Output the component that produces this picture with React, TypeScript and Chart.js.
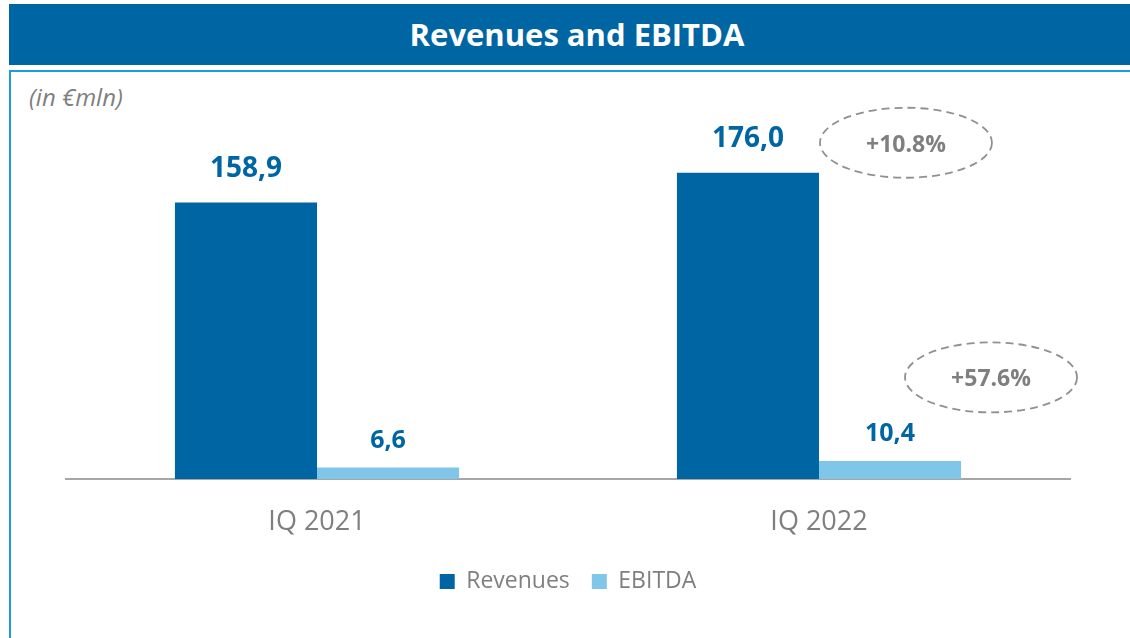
import React, { useEffect, useRef } from "react";
import { Chart, registerables } from "chart.js";

Chart.register(...registerables);

const categories = ["IQ 2021", "IQ 2022"];
const revenues = [158.9, 176.0];
const ebitda = [6.6, 10.4];
const seriesNames = ["Revenues", "EBITDA"];
const unitLabel = "(in €mln)";
const titleText = "Revenues and EBITDA";

const BLUE = "#0065A3";
const LIGHT = "#80C6E8";
const GRAY = "#7F7F7F";
const FONT = "'Open Sans', sans-serif";

const fmt = (v: number) => v.toFixed(1).replace(".", ",");
const growth = (a: number, b: number) => "+" + (((b - a) / a) * 100).toFixed(1) + "%";

const labelsPlugin = {
  id: "valueLabels",
  afterDatasetsDraw(chart: any) {
    const ctx = chart.ctx;
    ctx.save();
    ctx.textAlign = "center";
    ctx.textBaseline = "alphabetic";
    chart.data.datasets.forEach((ds: any, di: number) => {
      const meta = chart.getDatasetMeta(di);
      meta.data.forEach((bar: any, i: number) => {
        ctx.fillStyle = BLUE;
        if (di === 0) {
          ctx.font = `bold 28px ${FONT}`;
          ctx.fillText(fmt(ds.data[i]), bar.x, bar.y - 26);
        } else {
          ctx.font = `bold 25px ${FONT}`;
          ctx.fillText(fmt(ds.data[i]), bar.x, bar.y - 20);
        }
      });
    });
    // growth ellipses
    const revBar = chart.getDatasetMeta(0).data[1];
    const ebBar = chart.getDatasetMeta(1).data[1];
    const items = [
      { x: revBar.x + 158, y: revBar.y - 30, text: growth(revenues[0], revenues[1]) },
      { x: ebBar.x + 101, y: ebBar.y - 83.5, text: growth(ebitda[0], ebitda[1]) },
    ];
    items.forEach((it) => {
      ctx.beginPath();
      ctx.setLineDash([8, 5]);
      ctx.lineWidth = 1.8;
      ctx.strokeStyle = "#909090";
      ctx.ellipse(it.x, it.y, 86, 35, 0, 0, Math.PI * 2);
      ctx.stroke();
      ctx.setLineDash([]);
      ctx.fillStyle = GRAY;
      ctx.font = `bold 23px ${FONT}`;
      ctx.fillText(it.text, it.x, it.y + 9);
    });
    ctx.restore();
  },
};

export default function App() {
  const ref = useRef<HTMLCanvasElement | null>(null);
  useEffect(() => {
    if (!ref.current) return;
    Chart.defaults.font.family = FONT;
    const chart = new Chart(ref.current, {
      type: "bar",
      data: {
        labels: categories,
        datasets: [
          {
            label: seriesNames[0],
            data: revenues,
            backgroundColor: BLUE,
            categoryPercentage: 0.566,
            barPercentage: 1.0,
          },
          {
            label: seriesNames[1],
            data: ebitda,
            backgroundColor: LIGHT,
            categoryPercentage: 0.566,
            barPercentage: 1.0,
          },
        ],
      },
      options: {
        animation: false,
        responsive: false,
        devicePixelRatio: 1,
        layout: { padding: { top: 131, left: 66, right: 60, bottom: 35 } },
        plugins: {
          legend: {
            position: "bottom",
            labels: {
              boxWidth: 15,
              boxHeight: 15,
              padding: 22,
              color: GRAY,
              font: { size: 23, family: FONT },
            },
          },
          tooltip: { enabled: false },
          title: { display: false },
        },
        scales: {
          x: {
            grid: { display: false, drawTicks: false },
            border: { display: true, color: "#A6A6A6", width: 2 },
            ticks: { color: GRAY, font: { size: 27, family: FONT }, padding: 27 },
            afterFit: (scale: any) => {
              scale.height = 69;
            },
          },
          y: {
            display: false,
            min: 0,
            max: 200,
          },
        },
      },
      plugins: [labelsPlugin],
    });
    return () => chart.destroy();
  }, []);

  return (
    <div style={{ position: "absolute", left: 0, top: 0, width: 1130, height: 638, overflow: "hidden", background: "#fff" }}>
      <div
        style={{
          position: "absolute",
          left: 9,
          top: 4,
          width: 1121,
          height: 61,
          background: "#0066A3",
          color: "#fff",
          fontFamily: FONT,
          fontWeight: 700,
          fontSize: 31,
          lineHeight: "61px",
          textAlign: "center",
          paddingLeft: 15,
          boxSizing: "border-box",
        }}
      >
        {titleText}
      </div>
      <div
        style={{
          position: "absolute",
          left: 9,
          top: 70,
          right: 0,
          bottom: 0,
          borderTop: "2px solid #1E9CD4",
          borderLeft: "2px solid #1E9CD4",
        }}
      />
      <div
        style={{
          position: "absolute",
          left: 29,
          top: 81,
          fontFamily: FONT,
          fontStyle: "italic",
          fontSize: 24,
          lineHeight: "32px",
          color: GRAY,
        }}
      >
        {unitLabel}
      </div>
      <canvas ref={ref} width={1130} height={638} style={{ position: "absolute", left: 0, top: 0 }} />
    </div>
  );
}
